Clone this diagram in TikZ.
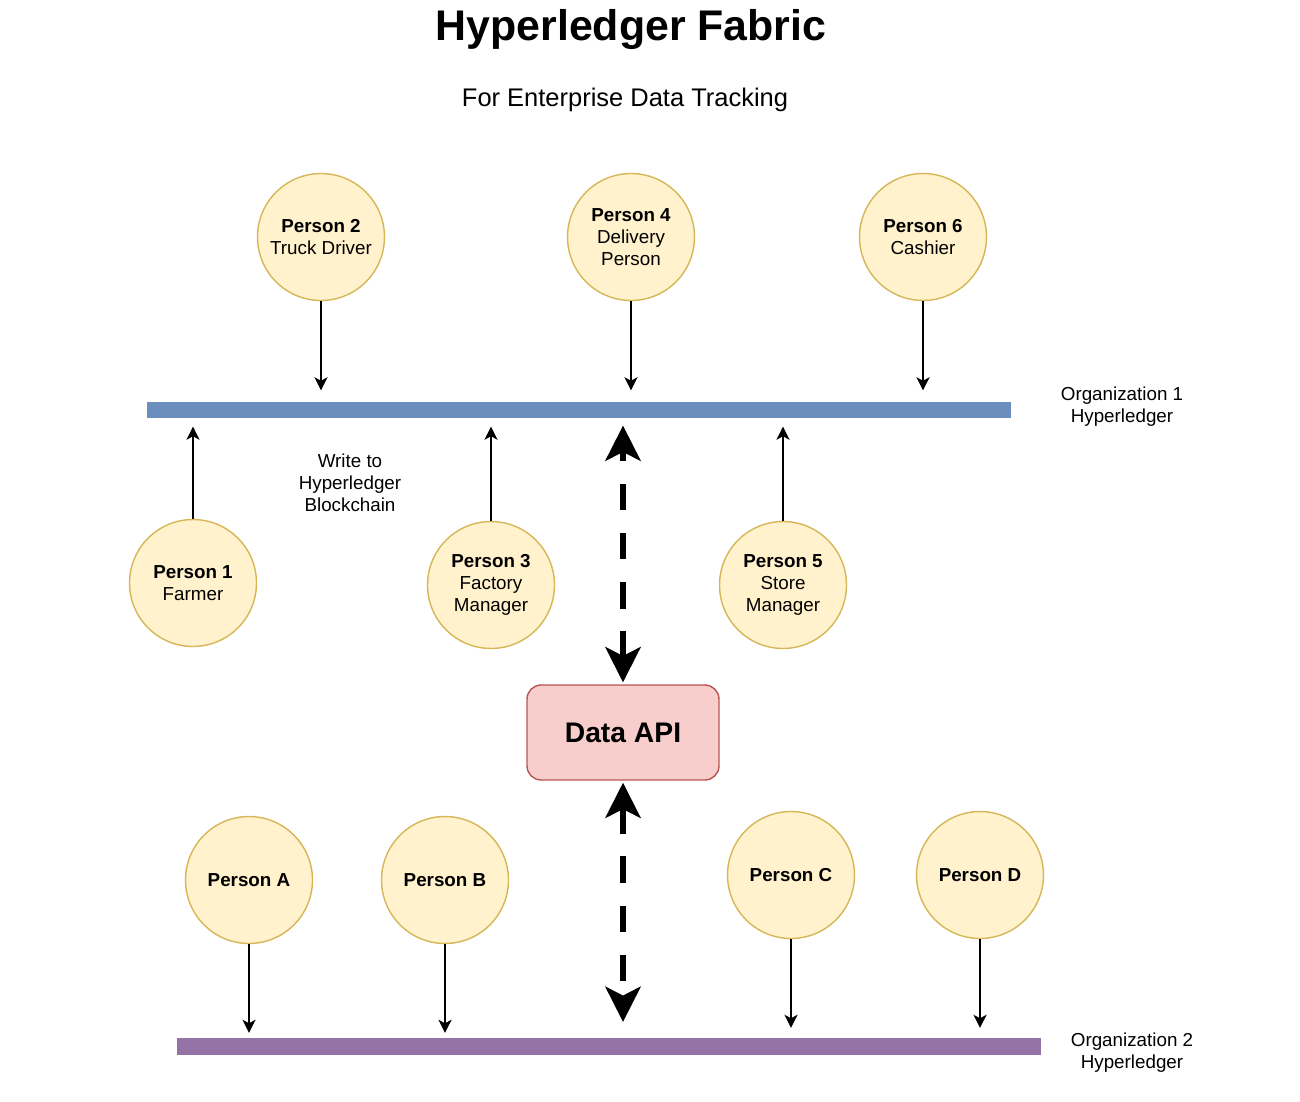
\documentclass[tikz,border=0pt]{standalone}
\usepackage{fontspec}
\setmainfont{Liberation Sans}
\usetikzlibrary{arrows.meta}

\definecolor{personfill}{HTML}{FFF2CC}
\definecolor{persondraw}{HTML}{D6B656}
\definecolor{apifill}{HTML}{F8CECC}
\definecolor{apidraw}{HTML}{B85450}
\definecolor{orgblue}{HTML}{6C8EBF}
\definecolor{orgpurple}{HTML}{9673A6}

\tikzset{
  person/.style={circle, draw=persondraw, fill=personfill, line width=.8pt,
    minimum size=2.54cm, inner sep=0pt, align=center,
    font=\fontsize{10.7}{12.5}\selectfont},
  orgbar/.style={rectangle, inner sep=0pt, minimum width=17.28cm, minimum height=0.33cm},
  label text/.style={align=center, font=\fontsize{10.7}{12.5}\selectfont},
  link/.style={line width=.75pt, -{Stealth[length=7.5pt,width=7.5pt,inset=2pt]}},
  api link/.style={line width=3.4pt, dash pattern=on 15pt off 13pt,
    {Stealth[length=20pt,width=20pt,inset=5pt]}-{Stealth[length=20pt,width=20pt,inset=5pt]}}
}

\begin{document}
\begin{tikzpicture}[x=0.02cm,y=-0.02cm]
\useasboundingbox (0,0) rectangle (1300,1101);

\node (title) at (631,30) {\fontsize{24.4}{28}\selectfont\bfseries Hyperledger Fabric};
\node (subtitle) at (625,100) {\fontsize{14.5}{17}\selectfont For Enterprise Data Tracking};

% organisation ledgers
\node[orgbar, fill=orgblue] (org1bar) at (579,410) {};
\node[orgbar, fill=orgpurple] (org2bar) at (609,1046.5) {};
\node[label text] (org1) at (1122,407) {Organization 1\\Hyperledger};
\node[label text] (org2) at (1132,1053) {Organization 2\\Hyperledger};
\node[label text] (write) at (350,483) {Write to\\Hyperledger\\Blockchain};

% people
\foreach \n/\x/\y/\txt in {1/193/583/{\textbf{Person 1}\\Farmer},
    2/321/237/{\textbf{Person 2}\\Truck Driver},
    3/491/585/{\textbf{Person 3}\\Factory\\Manager},
    4/631/237/{\textbf{Person 4}\\Delivery\\Person},
    5/783/585/{\textbf{Person 5}\\Store\\Manager},
    6/923/237/{\textbf{Person 6}\\Cashier},
    A/249/880/{\textbf{Person A}},
    B/445/880/{\textbf{Person B}},
    C/791/875/{\textbf{Person C}},
    D/980/875/{\textbf{Person D}}} {
  \node[person] (p\n) at (\x,\y) {\txt};}

\foreach \n in {2,4,6}
  \draw[link, shorten >=0.22cm] (p\n) -- (p\n |- org1bar.north);
\foreach \n in {1,3,5}
  \draw[link, shorten >=0.16cm] (p\n) -- (p\n |- org1bar.south);
\foreach \n/\s in {A/0.1cm,B/0.1cm,C/0.2cm,D/0.2cm}
  \draw[link, shorten >=\s] (p\n) -- (p\n |- org2bar.north);

% data api
\node[rectangle, rounded corners=8pt, draw=apidraw, fill=apifill, line width=.8pt,
  minimum width=3.84cm, minimum height=1.9cm,
  font=\fontsize{16.1}{19}\selectfont\bfseries] (api) at (623,732.5) {Data API};

\draw[api link, shorten <=0.04cm, shorten >=0.14cm] (api.north) -- (api.north |- org1bar.south);
\draw[api link, shorten <=0.04cm, shorten >=0.32cm] (api.south) -- (api.south |- org2bar.north);
\end{tikzpicture}
\end{document}
